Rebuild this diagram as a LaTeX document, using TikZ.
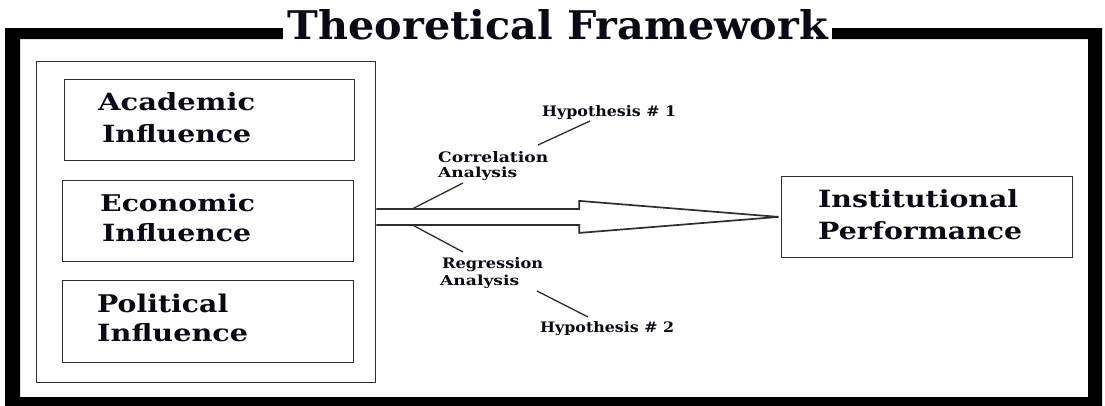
\documentclass[tikz,border=0pt]{standalone}
\usepackage{fontspec}
\setmainfont{DejaVu Serif}
\usetikzlibrary{calc}
\definecolor{ln}{HTML}{2E2E2E}
\definecolor{tx}{HTML}{0A0A14}
\newcommand{\fitt}[3]{\resizebox{#1pt}{#2pt}{\bfseries #3}}
\begin{document}
\begin{tikzpicture}[x=1pt,y=-1pt,
  boxn/.style={draw=ln,line width=1.8pt,anchor=north west,inner sep=0pt},
  wordn/.style={anchor=base west,inner sep=0pt,text=tx},
  thinl/.style={draw=ln,line width=1.3pt},
  arrowl/.style={draw=ln,line width=1.7pt,line join=miter}]
\useasboundingbox (0,0) rectangle (1105,405);
\fill[white] (0,0) rectangle (1105,405);
% thick outer frame
\fill[black,even odd rule] (5,28) rectangle (1102,406) (20,39) rectangle (1088,397);
% title
\node[wordn,fill=white,inner xsep=4.5pt,inner ysep=1pt] (title) at (283,39) {\fitt{540}{30}{Theoretical Framework}};
% container and boxes
\node[boxn,minimum width=339pt,minimum height=321pt] (cont) at (35.5,60.5) {};
\node[boxn,minimum width=290pt,minimum height=81pt] (acad) at (63.5,78.5) {};
\node[boxn,minimum width=291pt,minimum height=81pt] (econ) at (61.5,179.5) {};
\node[boxn,minimum width=291pt,minimum height=82pt] (poli) at (61.5,279.5) {};
\node[boxn,minimum width=291pt,minimum height=81pt] (inst) at (780.5,175.5) {};
% box texts
\node[wordn] (acad1) at (98,110) {\fitt{157}{18}{Academic}};
\node[wordn] (acad2) at (102,142) {\fitt{149}{18}{Influence}};
\node[wordn] (econ1) at (100,211) {\fitt{155}{17.5}{Economic}};
\node[wordn] (econ2) at (102,241) {\fitt{149}{18}{Influence}};
\node[wordn] (poli1) at (97,312) {\fitt{131}{18.5}{Political}};
\node[wordn] (poli2) at (97,341) {\fitt{151}{18}{Influence}};
\node[wordn] (inst1) at (818,207) {\fitt{200}{18}{Institutional}};
\node[wordn] (inst2) at (818,239) {\fitt{204}{18}{Performance}};
% block arrow
\coordinate (as) at (cont.east |- inst.west);
\draw[arrowl] ($(as)+(0,-8)$) -- ($(as)+(203,-8)$) -- ($(as)+(203,-16)$)
  -- ($(inst.west)+(-2,0)$) -- ($(as)+(203,16)$) -- ($(as)+(203,8)$) -- ($(as)+(0,8)$);
% labels
\node[wordn] (hyp1) at (542,116) {\fitt{134}{11}{Hypothesis \# 1}};
\node[wordn] (cor1) at (438,162) {\fitt{110}{11}{Correlation}};
\node[wordn] (cor2) at (438,177) {\fitt{79}{10.5}{Analysis}};
\node[wordn] (reg1) at (442,268) {\fitt{101}{11}{Regression}};
\node[wordn] (reg2) at (440,285) {\fitt{79}{10.5}{Analysis}};
\node[wordn] (hyp2) at (540,332) {\fitt{134}{11}{Hypothesis \# 2}};
% leader lines
\coordinate (u1) at ($(as)+(36,-8)$);
\coordinate (u2) at (463,183);
\coordinate (u3) at (538,145);
\coordinate (u4) at (590,121);
\coordinate (d1) at ($(as)+(36,8)$);
\coordinate (d2) at (463,252);
\coordinate (d3) at (537,291);
\coordinate (d4) at (588,317);
\draw[thinl] (u1) -- (u2);
\draw[thinl] (u3) -- (u4);
\draw[thinl] (d1) -- (d2);
\draw[thinl] (d3) -- (d4);
\end{tikzpicture}
\end{document}
